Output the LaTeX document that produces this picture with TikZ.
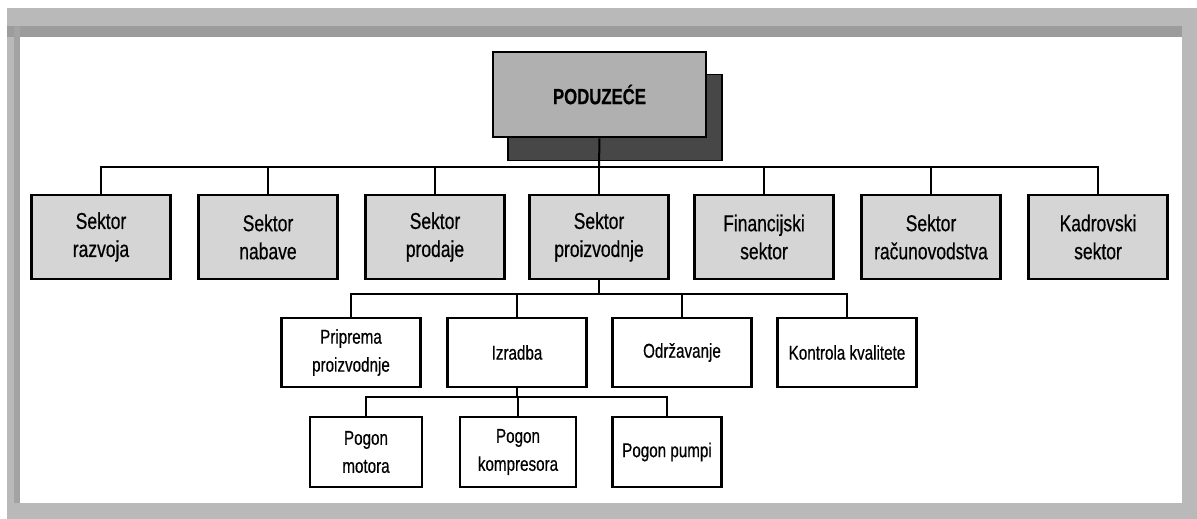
\documentclass[tikz,border=0pt]{standalone}
\usepackage{fontspec}
\setmainfont{Liberation Sans}[FakeStretch=0.76,FakeBold=0.5]
\begin{document}
\begin{tikzpicture}[x=1pt,y=-1pt,
  box/.style={draw=black,line width=2.6pt,align=center,inner sep=0pt,
    minimum width=139pt,minimum height=84pt},
  sector/.style={box,fill=gray!33,font=\fontsize{23}{28}\selectfont},
  unit/.style={box,fill=white,minimum height=69pt,font=\fontsize{20}{28}\selectfont},
  plant/.style={box,fill=white,minimum height=70pt,font=\fontsize{20}{28}\selectfont},
  conn/.style={draw=black,line width=2pt}]
\useasboundingbox (0,0) rectangle (1197,519);
% frame
\fill[gray!55] (7,8) rectangle (1197,519);
\fill[gray!78] (7,26) rectangle (1182,37);
\fill[gray!72] (14,26) rectangle (20,503);
\fill[white] (20,37) rectangle (1182,503);
% top box with shadow
\node[draw=black,line width=1.5pt,fill=black!72,minimum width=214pt,minimum height=86pt,inner sep=0pt] (shadow) at (615,117.5) {};
\node[box,fill=gray!62,minimum width=213pt,minimum height=85pt,font=\fontsize{22}{24}\selectfont\bfseries] (top) at (599.5,94.5) {PODUZEĆE};
% level 2
\node[sector] (razvoj) at (101,237) {Sektor\\razvoja};
\node[sector] (nabava) at (268,237) {Sektor\\nabave};
\node[sector] (prodaja) at (435,237) {Sektor\\prodaje};
\node[sector] (proizv) at (599,237) {Sektor\\proizvodnje};
\node[sector] (financ) at (764,237) {Financijski\\sektor};
\node[sector] (racun) at (931,237) {Sektor\\računovodstva};
\node[sector] (kadr) at (1098,237) {Kadrovski\\sektor};
% level 3
\node[unit] (priprema) at (351,352.5) {Priprema\\proizvodnje};
\node[unit] (izradba) at (517,352.5) {Izradba};
\node[unit] (odrz) at (682,352.5) {Održavanje};
\node[unit] (kontr) at (847,352.5) {Kontrola kvalitete};
% level 4
\node[plant,minimum width=112pt] (motor) at (366,452) {Pogon\\motora};
\node[plant,minimum width=116pt] (kompr) at (518,452) {Pogon\\kompresora};
\node[plant,minimum width=109pt] (pumpe) at (667,452) {Pogon pumpi};
% connectors
\coordinate (bus1) at (599,167);
\coordinate (bus2) at (599,294);
\coordinate (bus3) at (517,397);
\draw[conn] (top.south) -- (bus1);
\foreach \n in {razvoj,nabava,prodaja,proizv,financ,racun,kadr}
  \draw[conn] (bus1) -| (\n.north);
\draw[conn] (proizv.south) -- (bus2);
\foreach \n in {priprema,izradba,odrz,kontr}
  \draw[conn] (bus2) -| (\n.north);
\draw[conn] (izradba.south) -- (bus3);
\foreach \n in {motor,kompr,pumpe}
  \draw[conn] (bus3) -| (\n.north);
\end{tikzpicture}
\end{document}
